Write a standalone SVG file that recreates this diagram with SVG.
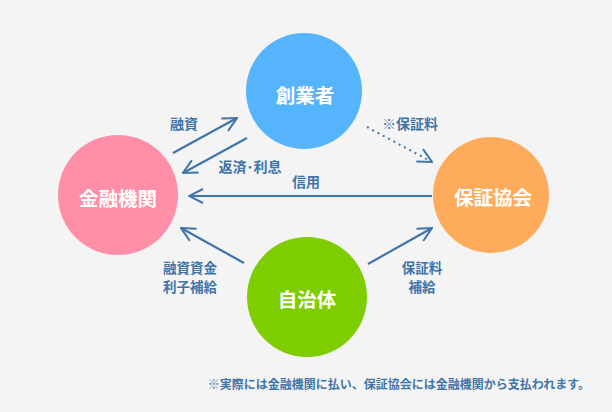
<svg xmlns="http://www.w3.org/2000/svg" width="612" height="412" viewBox="0 0 612 412">
<defs>
<style>
.node text{font-family:"Noto Sans CJK JP","Noto Sans",sans-serif;font-weight:bold;font-size:19.5px;fill:#fff;text-anchor:middle;dominant-baseline:central}
.lbl{font-family:"Noto Sans CJK JP","Noto Sans",sans-serif;font-weight:bold;font-size:14px;fill:#3f75a9;text-anchor:middle}
.two{font-size:13.5px}
.ln{stroke:#3f75a9;stroke-width:2.2;fill:none}
.dot{stroke:#3f75a9;stroke-width:2;fill:none;stroke-dasharray:2 4}
</style>
<marker id="ahb" viewBox="0 0 16 16" refX="15" refY="8" markerWidth="16" markerHeight="16" markerUnits="userSpaceOnUse" orient="auto">
<path d="M1,1 L15,8 L1,15" fill="none" stroke="#3f75a9" stroke-width="2"/>
</marker>
</defs>
<rect width="612" height="412" fill="#f4f4f4"/>
<g id="connectors">
<line class="ln" x1="173" y1="153" x2="237" y2="118" marker-end="url(#ahb)"/>
<line class="ln" x1="247" y1="138" x2="183" y2="173" marker-end="url(#ahb)"/>
<line class="dot" x1="367" y1="127" x2="432" y2="162" marker-end="url(#ahb)"/>
<line class="ln" x1="432" y1="196" x2="189" y2="196" marker-end="url(#ahb)"/>
<line class="ln" x1="244" y1="263" x2="181" y2="228" marker-end="url(#ahb)"/>
<line class="ln" x1="368" y1="264" x2="432" y2="228" marker-end="url(#ahb)"/>
<text class="lbl" x="184" y="129">融資</text>
<text class="lbl" x="250" y="172">返済･利息</text>
<text class="lbl" x="306" y="187">信用</text>
<text class="lbl" x="410" y="129">※保証料</text>
<text class="lbl two" x="190" y="272.5">融資資金</text>
<text class="lbl two" x="190" y="292">利子補給</text>
<text class="lbl two" x="422" y="272.5">保証料</text>
<text class="lbl two" x="422" y="292">補給</text>
</g>
<g id="creator" class="node"><circle cx="304" cy="91" r="58" fill="#55b4fb"/><text x="305" y="94">創業者</text></g>
<g id="bank" class="node"><circle cx="118" cy="195" r="60" fill="#ff8fa6"/><text x="118" y="197">金融機関</text></g>
<g id="guarantee" class="node"><circle cx="491" cy="195" r="58" fill="#ffab5c"/><text x="493" y="196">保証協会</text></g>
<g id="municipality" class="node"><circle cx="307" cy="297" r="60" fill="#7ecd00"/><text x="307" y="298">自治体</text></g>
<text class="lbl" x="590" y="389" style="text-anchor:end;font-size:12px">※実際には金融機関に払い、保証協会には金融機関から支払われます。</text>
</svg>
